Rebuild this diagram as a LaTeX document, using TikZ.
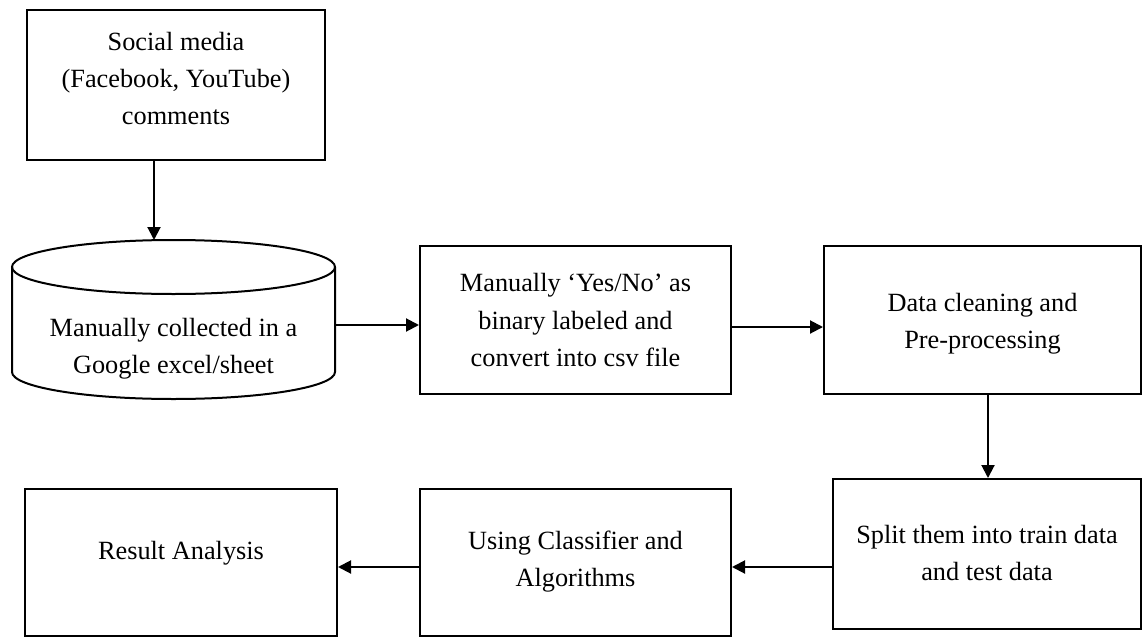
\documentclass[tikz,border=0pt]{standalone}
\usepackage{fontspec}
\setmainfont{Liberation Serif}
\usetikzlibrary{arrows.meta}
\begin{document}
\begin{tikzpicture}[x=1pt,y=-1pt,
  box/.style={draw=black, line width=2pt, inner sep=0pt},
  arr/.style={line width=2pt, -{Triangle[length=13pt,width=13pt]}},
  lbl/.style={align=center, inner sep=0pt, font=\fontsize{26.3}{37}\selectfont}]
\useasboundingbox (0,0) rectangle (1143,637);
% boxes
\node[box, minimum width=298pt, minimum height=150pt,
  label={[lbl, yshift=6pt]center:{Social media\\(Facebook, YouTube)\\comments}}] (b1) at (176,85) {};
% cylinder
\draw[line width=2pt] (12,267) -- (12,372) arc[start angle=180, end angle=0, x radius=161.5, y radius=27] -- (335,267);
\draw[line width=2pt] (173.5,267) ellipse [x radius=161.5, y radius=27];
\node[minimum width=323pt, minimum height=159pt, inner sep=0pt,
  label={[lbl, yshift=-29pt]center:{Manually collected in a\\Google excel/sheet}}] (cyl) at (173.5,319.5) {};
\coordinate (cyltop) at (154,240);
\node[box, minimum width=311pt, minimum height=148pt,
  label={[lbl]center:{Manually ‘Yes/No’ as\\binary labeled and\\convert into csv file}}] (b2) at (575.5,320) {};
\node[box, minimum width=317pt, minimum height=148pt,
  label={[lbl, yshift=-4pt]center:{Data cleaning and\\Pre-processing}}] (b3) at (982.5,320) {};
\node[box, minimum width=308pt, minimum height=150pt,
  label={[lbl, yshift=1pt]center:{Split them into train data\\and test data}}] (b4) at (987,554) {};
\node[box, minimum width=311pt, minimum height=147pt,
  label={[lbl, yshift=1pt]center:{Using Classifier and\\Algorithms}}] (b5) at (575.5,562.5) {};
\node[box, minimum width=312pt, minimum height=147pt,
  label={[lbl, yshift=9pt]center:{Result Analysis}}] (b6) at (181,562.5) {};
% connectors
\draw[arr] (b1.south -| cyltop) -- (cyltop);
\draw[arr] (cyl.east |- 0,325) -- (b2.west |- 0,325);
\draw[arr] (b2.east |- 0,327) -- (b3.west |- 0,327);
\draw[arr] (b3.south -| 988,0) -- (b4.north -| 988,0);
\draw[arr] (b4.west |- 0,567) -- (b5.east |- 0,567);
\draw[arr] (b5.west |- 0,567) -- (b6.east |- 0,567);
\end{tikzpicture}
\end{document}
